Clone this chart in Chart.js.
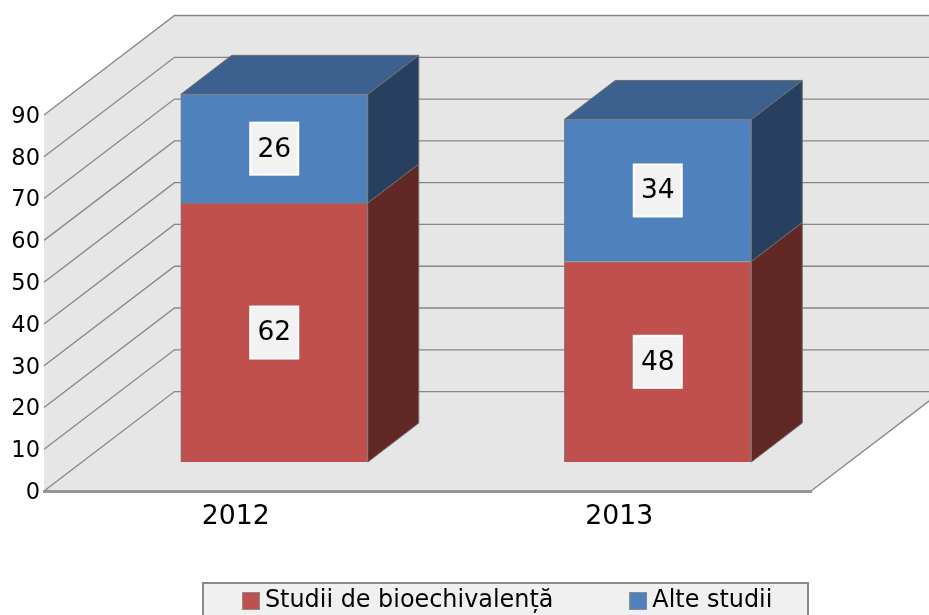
<!DOCTYPE html>
<html>
<head>
<meta charset="utf-8">
<style>
  html, body { margin: 0; padding: 0; background: #fff; overflow: hidden; }
  canvas { display: block; }
</style>
<script src="https://cdn.jsdelivr.net/npm/chart.js@4"></script>
</head>
<body>
<div style="width:929px;height:615px"><canvas id="chart"></canvas></div>
<script>
var categories = ['2012', '2013'];
var bioechivalenta = [62, 48];
var alteStudii = [26, 34];
var yMax = 90;
var yStep = 10;

var fontName = '"DejaVu Sans", Verdana, sans-serif';
var lineColor = '#868686';
var wallColor = '#e6e6e6';
// depth of the box and of the bars, in pixels
var wall = { dx: 130.5, dy: 99.5 };
var bar = { dx: 51, dy: 39, shiftX: 38.5, shiftY: -29 };

var faces = [
  { front: '#c0504d', side: '#622826', top: '#8f3c3a' },
  { front: '#4f81bd', side: '#274060', top: '#3c618e' }
];

function poly(ctx, pts, fill, stroke) {
  ctx.beginPath();
  ctx.moveTo(pts[0][0], pts[0][1]);
  for (var i = 1; i < pts.length; i++) {
    ctx.lineTo(pts[i][0], pts[i][1]);
  }
  ctx.closePath();
  ctx.fillStyle = fill;
  ctx.fill();
  if (stroke) {
    ctx.strokeStyle = stroke;
    ctx.lineWidth = 1;
    ctx.stroke();
  }
}

function swatch(color) {
  var c = document.createElement('canvas');
  c.width = 18;
  c.height = 18;
  var g = c.getContext('2d');
  g.fillStyle = color;
  g.fillRect(0, 0, 18, 18);
  g.strokeStyle = '#8c8c8c';
  g.lineWidth = 1;
  g.strokeRect(0.5, 0.5, 17, 17);
  return c;
}

var box3d = {
  id: 'box3d',
  afterLayout: function(chart) {
    // legend sits off centre in the original
    var l = chart.legend;
    var pad = l.options.labels.padding;
    l.left = 249 - pad;
    l.right = 929;
    l.top = 589 - pad;
    l.bottom = l.top + l.height;
  },
  beforeDraw: function(chart) {
    var ctx = chart.ctx;
    var a = chart.chartArea;
    var ys = chart.scales.y;
    var l = a.left, r = a.right, b = a.bottom;
    var top = ys.getPixelForValue(yMax);

    ctx.save();
    // floor, left wall and back wall share one colour
    poly(ctx, [[l, b], [r, b], [r + wall.dx, b - wall.dy], [r + wall.dx, top - wall.dy], [l + wall.dx, top - wall.dy], [l, top]], wallColor);

    ctx.strokeStyle = lineColor;
    ctx.lineWidth = 1.3;
    ys.ticks.forEach(function(t) {
      var y = ys.getPixelForValue(t.value);
      ctx.beginPath();
      ctx.moveTo(l, y);
      ctx.lineTo(l + wall.dx, y - wall.dy);
      ctx.lineTo(r + wall.dx, y - wall.dy);
      ctx.stroke();
    });
    ctx.beginPath();
    ctx.moveTo(r, b);
    ctx.lineTo(r + wall.dx, b - wall.dy);
    ctx.stroke();

    // legend frame
    ctx.fillStyle = '#f0f0f0';
    ctx.fillRect(203, 583, 605, 40);
    ctx.strokeStyle = '#8a8a8a';
    ctx.lineWidth = 2;
    ctx.strokeRect(203, 583, 605, 40);
    ctx.restore();
  },
  beforeDatasetsDraw: function(chart) {
    var ctx = chart.ctx;
    ctx.save();
    ctx.translate(bar.shiftX, bar.shiftY);
    chart.data.datasets.forEach(function(ds, i) {
      var last = i === chart.data.datasets.length - 1;
      chart.getDatasetMeta(i).data.forEach(function(el) {
        var x2 = el.x + el.width / 2;
        var x1 = el.x - el.width / 2;
        poly(ctx, [[x2, el.y], [x2 + bar.dx, el.y - bar.dy], [x2 + bar.dx, el.base - bar.dy], [x2, el.base]], faces[i].side, '#6e6e6e');
        if (last) {
          poly(ctx, [[x1, el.y], [x1 + bar.dx, el.y - bar.dy], [x2 + bar.dx, el.y - bar.dy], [x2, el.y]], faces[i].top, '#6e6e6e');
        }
      });
    });
  },
  afterDatasetsDraw: function(chart) {
    var ctx = chart.ctx;
    // value tags, still in the shifted bar plane
    chart.data.datasets.forEach(function(ds, i) {
      chart.getDatasetMeta(i).data.forEach(function(el, j) {
        var cy = (el.y + el.base) / 2;
        ctx.fillStyle = '#f2f2f2';
        ctx.strokeStyle = '#ffffff';
        ctx.lineWidth = 2;
        ctx.fillRect(el.x - 24, cy - 26, 48, 52);
        ctx.strokeRect(el.x - 24, cy - 26, 48, 52);
        ctx.fillStyle = '#000';
        ctx.font = '26.5px ' + fontName;
        ctx.textAlign = 'center';
        ctx.textBaseline = 'middle';
        ctx.fillText(String(ds.data[j]), el.x, cy + 1);
      });
    });
    ctx.restore();
  }
};

new Chart(document.getElementById('chart'), {
  type: 'bar',
  data: {
    labels: categories,
    datasets: [
      {
        label: 'Studii de bioechivalență',
        data: bioechivalenta,
        backgroundColor: faces[0].front,
        borderColor: '#7f7f7f',
        borderWidth: 1,
        clip: false
      },
      {
        label: 'Alte studii',
        data: alteStudii,
        backgroundColor: faces[1].front,
        borderColor: '#7f7f7f',
        borderWidth: 1,
        clip: false
      }
    ]
  },
  plugins: [box3d],
  options: {
    responsive: true,
    maintainAspectRatio: false,
    animation: false,
    layout: { padding: { top: 115, right: 118, bottom: -38, left: 0 } },
    barThickness: 187,
    plugins: {
      title: { display: false },
      tooltip: { enabled: false },
      legend: {
        position: 'bottom',
        align: 'start',
        labels: {
          color: '#000',
          font: { family: fontName, size: 23.9 },
          usePointStyle: true,
          pointStyleWidth: 4,
          padding: 83,
          generateLabels: function(chart) {
            var items = Chart.defaults.plugins.legend.labels.generateLabels(chart);
            items.forEach(function(item, i) {
              item.pointStyle = swatch(faces[i].front);
            });
            return items;
          }
        }
      }
    },
    scales: {
      x: {
        stacked: true,
        grid: { display: false },
        border: { color: '#969696', width: 3 },
        ticks: { color: '#000', font: { family: fontName, size: 26.7 }, padding: 2, maxRotation: 0 },
        afterFit: function(scale) { scale.height = 45; }
      },
      y: {
        stacked: true,
        min: 0,
        max: yMax,
        grid: { display: false },
        border: { display: false },
        ticks: { stepSize: yStep, color: '#000', font: { family: fontName, size: 22.5 }, padding: -4, labelOffset: 2 },
        afterFit: function(scale) { scale.width = 44; }
      }
    }
  }
});
</script>
</body>
</html>
